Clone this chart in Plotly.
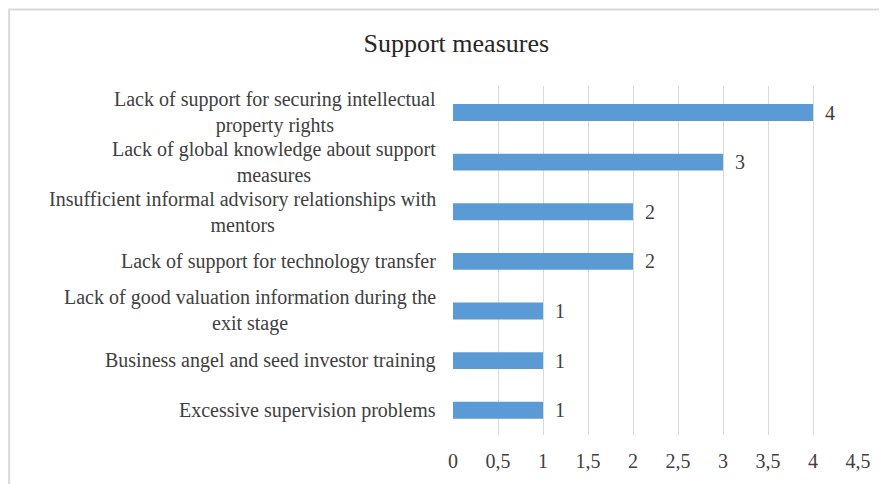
import plotly.graph_objects as go

############################ DATA ############################################
categories = [
    "Lack of support for securing intellectual<br>property rights",
    "Lack of global knowledge about support<br>measures",
    "Insufficient informal advisory relationships with<br>mentors",
    "Lack of support for technology transfer",
    "Lack of good valuation information during the<br>exit stage",
    "Business angel and seed investor training",
    "Excessive supervision problems",
]
counts = [4, 3, 2, 2, 1, 1, 1]
x_ticks = [0, 0.5, 1, 1.5, 2, 2.5, 3, 3.5, 4, 4.5]

font_name = "Liberation Serif"
text_col = "#404040"
fsize = 20

############################ FIGURE ##########################################
# page body has an 8px margin, so the figure is 8px smaller than the window
fig = go.Figure()
fig.add_trace(go.Bar(
    x=counts, y=categories, orientation="h",
    marker=dict(color="#5b9bd5", line=dict(width=0)),
    width=0.34, hoverinfo="x+y",
))

# value labels next to the bars
for c, v in zip(categories, counts):
    fig.add_annotation(x=v, y=c, text=str(v), showarrow=False,
                       xanchor="left", xshift=10,
                       font=dict(family=font_name, size=fsize, color=text_col))

# category labels (centred lines, right edge near the axis)
for c in categories:
    fig.add_annotation(x=0, y=c, xref="paper", text=c, showarrow=False,
                       xanchor="right", xshift=-15, align="center",
                       font=dict(family=font_name, size=fsize, color=text_col))

# outer chart border (only top/left visible in the crop)
fig.add_shape(type="rect", xref="paper", yref="paper",
              x0=-1.096, x1=1.3, y0=-0.3, y1=1.219,
              line=dict(color="#d9d9d9", width=2), layer="below")

fig.update_layout(
    width=879, height=476,
    margin=dict(l=445, r=29, t=78, b=47),
    paper_bgcolor="white", plot_bgcolor="white",
    separators=", ",
    showlegend=False,
    title=dict(text="Support measures", x=0.51, xanchor="center",
               y=0.926, yanchor="middle",
               font=dict(family=font_name, size=26, color="#262626")),
    font=dict(family=font_name, size=fsize, color=text_col),
)
fig.update_xaxes(range=[0, 4.5], tickvals=x_ticks, showgrid=True,
                 gridcolor="#d9d9d9", gridwidth=1, zeroline=False,
                 showline=False, ticks="", ticklabelstandoff=12,
                 tickfont=dict(family=font_name, size=fsize, color=text_col))
fig.update_yaxes(autorange="reversed", showticklabels=False, showgrid=False,
                 zeroline=False, showline=False, ticks="")

fig.write_html("out.html")
